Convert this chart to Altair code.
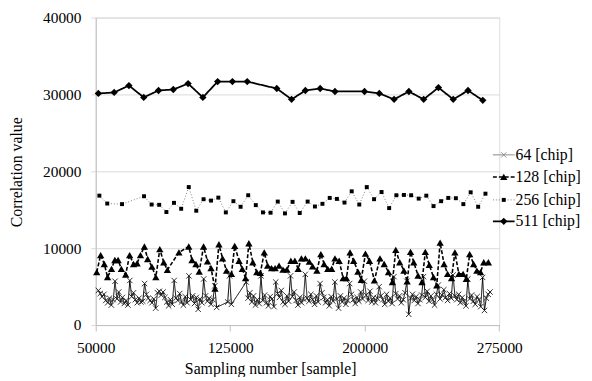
import altair as alt
import pandas as pd

FONT = "'Liberation Serif', 'Times New Roman', Times, serif"

series_names = ["64 [chip]", "128 [chip]", "256 [chip]", "511 [chip]"]

# 511 [chip]
x511 = [51480, 60280, 68520, 76770, 85010, 93250, 101500, 109740, 117990, 126230,
        134480, 150960, 159210, 166900, 175150, 183390, 199880, 208120, 216370,
        224610, 232860, 241100, 249340, 257590, 265830]
v511 = [30128, 30256, 31154, 29615, 30513, 30641, 31410, 29615, 31667, 31667,
        31667, 30769, 29359, 30513, 30769, 30385, 30385, 30128, 29359, 30385,
        29359, 30897, 29359, 30513, 29231]

# 256 [chip]
x256 = [52030, 56430, 64670, 76930, 81160, 85390, 89410, 93640, 97650, 101880,
        106060, 110130, 114300, 118370, 122550, 126780, 130790, 135020, 139260,
        143270, 147500, 151510, 155520, 159760, 163770, 168170, 172230, 176410,
        180480, 184490, 188720, 192730, 196960, 201140, 205210, 209380, 213620,
        217630, 221860, 225870, 230100, 234340, 238350, 242580, 246590, 250820,
        255000, 259070, 263250, 267310]
v256 = [16833, 15808, 15731, 16756, 15679, 15641, 14705, 15897, 15128, 17949,
        14872, 16372, 16192, 16577, 14654, 16115, 15385, 16885, 15603, 14654,
        14615, 16064, 14526, 16026, 14577, 16064, 15423, 15769, 16538, 16410,
        15936, 17397, 15679, 17949, 16372, 17308, 15218, 16885, 16923, 16885,
        16449, 16833, 15474, 16115, 16538, 16500, 15731, 17269, 15385, 17090]

# 128 [chip]
x128 = [50550, 52750, 54780, 56600, 58800, 60660, 62480, 64290, 66710, 68910,
        71100, 73080, 74950, 77150, 78960, 81330, 83530, 85720, 87920, 89960,
        96390, 101880, 103700, 105890, 107710, 110130, 112320, 114300, 116500, 118700,
        120730, 122930, 125680, 127490, 129910, 131730, 133550, 135410, 137610, 139810,
        141790, 143980, 145850, 148050, 150030, 152230, 154420, 156620, 158820, 161020,
        162890, 164700, 166900, 169100, 170910, 173330, 175530, 177340, 179380, 181570,
        183390, 185750, 187950, 189820, 191800, 193830, 196200, 198060, 200400, 202630,
        205380, 208510, 210870, 213230, 215430, 217300, 219500, 221860, 223670, 225540,
        227350, 229720, 231920, 233780, 235980, 238350, 240160, 242030, 244230, 246210,
        248410, 250280, 252480, 254840, 256660, 258520, 260720, 262530, 264570, 266380,
        268960]
v128 = [6885, 9102, 7948, 6243, 7307, 8461, 8461, 7307, 6577, 9102,
        7948, 8038, 9102, 10217, 8589, 7602, 6243, 9871, 8166, 7179,
        9448, 10217, 8461, 7948, 6961, 10217, 8294, 7397, 4743, 10512,
        8679, 7089, 6666, 10294, 8371, 7307, 6115, 10641, 8166, 6885,
        6795, 9448, 7730, 7397, 7397, 7730, 7218, 7218, 8371, 8371,
        7307, 8679, 8679, 8243, 7653, 7089, 9230, 7948, 7307, 7307,
        8679, 8371, 6115, 6115, 9448, 8371, 6961, 5897, 9300, 8371,
        5820, 8679, 7948, 6885, 5602, 9782, 8166, 7089, 5679, 9525,
        8166, 6448, 5602, 9525, 7820, 6243, 5166, 10730, 7948, 6666,
        6115, 9448, 6666, 6666, 6025, 9230, 7948, 7089, 6885, 8166,
        8166]

# 64 [chip]: sampled every 1030 samples from 51500 (None = no sample)
x64_start = 51500
x64_step = 1030
v64 = [4500, 4100, 3700, 4000, 3200, 2900, 3500, 2600, 3300,
       5700, 3400, 4300, 3000, 3600, 2800, 3200, 2600,
       5800, 3700, 4200, 3300, 2900, 3500, 3000, 3100,
       5400, 4000, 3500, 3200, 2900, 3400, 2200, 4200,
       4400, 3900, 4300, 3600, 3000, 2500, 3300, 2700,
       5800, 3500, 3200, 4100, 3000, 2600, 3700, 2900,
       6400, 3300, 3800, 2800, 3600, 2050, 3400, 2900,
       6000, 3800, 3100, 3500, 2700,
       3300, 5100, 2300,
       None, None, None, None, None,
       3000, 6400, 2700,
       None, None, None, None, None, None, None,
       5600, 3500, 4200, 3000, 3800, 2600, 3300, 2800,
       6400, 3200, 3900, 2900, 2500, 3700, 3400, 2400,
       5600, 4100, 3600, 4500, 3000, 2700, 3800, 3100,
       6400, 3700, 4300, 3200, 2600, 3600, 2900, 3400,
       6600, 3500, 3100, 4000, 3300, 2700, 3800, 3000,
       5400, 4200, 3600, 2900, 3300, 2500, 3700, 3100,
       5600, 3400, 2200, 3800, 3000, 3500, 2700, 3200,
       5400, 4000, 3300, 2800, 3600, 3100, 4300, 3400,
       5700, 3900, 3200, 4400, 3000, 3600, 2900, 3500,
       5000, 3800, 3300, 2700, 4000, 3100, 3500, 2800,
       6300, 4100, 3400, 3800, 2900, 3300, 4200,
       5700, 1400,
       3500, 4000, 3200, 3700, 2800, 3300, 3900,
       6300, 3600, 4400, 3100, 3800, 3300, 2600, 4000,
       5200, 3400, 3900, 4600, 3600, 3200, 4100, 3500,
       6500, 3800, 3300, 4000, 2900, 3600, 3100, 2500,
       6000, 3400, 3900, 3100, 2700, 3700, 3300, 2400,
       6200, 1900,
       3500, 4000, 4300]

x64 = [x64_start + x64_step * i for i, v in enumerate(v64) if v is not None]
v64c = [v for v in v64 if v is not None]

x_ticks = [50000, 125000, 200000, 275000]
y_ticks = [0, 10000, 20000, 30000, 40000]

x_scale = alt.Scale(domain=[50000, 275000], nice=False, zero=False)
y_scale = alt.Scale(domain=[0, 40000], nice=False)

x_axis = alt.Axis(values=x_ticks, format="d", grid=False, title="Sampling number [sample]",
                  domainColor="#bfbfbf", tickColor="#bfbfbf", tickSize=6,
                  labelFont=FONT, labelFontSize=15.6, labelColor="black", labelPadding=10,
                  labelFlush=False,
                  titleFont=FONT, titleFontSize=16, titleFontWeight="normal", titleColor="black",
                  titleX=177, titleY=44, titleBaseline="middle")
y_axis = alt.Axis(values=y_ticks, format="d", grid=True, gridColor="#d9d9d9",
                  title="Correlation value",
                  domainColor="#bfbfbf", tickColor="#d9d9d9", tickSize=5,
                  labelFont=FONT, labelFontSize=15.6, labelColor="black", labelPadding=10,
                  titleFont=FONT, titleFontSize=16, titleFontWeight="normal", titleColor="black",
                  titleX=-80, titleY=156.5, titleAngle=-90, titleBaseline="middle",
                  titleAlign="center")

X_SHAPE = "M-1,-1L1,1M-1,1L1,-1"

styles = {
    "64 [chip]": dict(color="black", width=1.0, dash=[1, 0], shape=X_SHAPE, size=30, filled=False, mcolor="#1a1a1a", lcolor="#808080"),
    "128 [chip]": dict(color="black", width=1.6, dash=[4, 2], shape="triangle-up", size=55, filled=True, mcolor="black", lcolor="black"),
    "256 [chip]": dict(color="#808080", width=1.0, dash=[1, 2], shape="square", size=16, filled=True, mcolor="black", lcolor="#808080"),
    "511 [chip]": dict(color="black", width=1.8, dash=[1, 0], shape="diamond", size=55, filled=True, mcolor="black", lcolor="black"),
}

data_sets = {
    "64 [chip]": (x64, v64c),
    "128 [chip]": (x128, v128),
    "256 [chip]": (x256, v256),
    "511 [chip]": (x511, v511),
}

layers = []
for name in series_names:
    xs, vs = data_sets[name]
    df = pd.DataFrame({"x": xs, "v": vs})
    st = styles[name]
    enc = dict(x=alt.X("x:Q", scale=x_scale, axis=x_axis),
               y=alt.Y("v:Q", scale=y_scale, axis=y_axis))
    line = alt.Chart(df).mark_line(color=st["color"], strokeWidth=st["width"],
                                   strokeDash=st["dash"]).encode(**enc)
    if st["filled"]:
        pts = alt.Chart(df).mark_point(shape=st["shape"], size=st["size"], filled=True,
                                       color=st["mcolor"], opacity=1).encode(**enc)
    else:
        pts = alt.Chart(df).mark_point(shape=st["shape"], size=st["size"], filled=False,
                                       stroke=st["mcolor"], strokeWidth=0.9, opacity=1).encode(**enc)
    layers += [line, pts]

# legend (drawn manually, Excel style)
legend_y = [139.3, 161.7, 185.0, 206.7]
for name, ly in zip(series_names, legend_y):
    st = styles[name]
    ldf = pd.DataFrame({"label": [name]})
    layers.append(alt.Chart(ldf).mark_rule(color=st["lcolor"], strokeWidth=st["width"],
                                           strokeDash=st["dash"]).encode(
        x=alt.value(403), x2=alt.value(425), y=alt.value(ly)))
    if st["filled"]:
        layers.append(alt.Chart(ldf).mark_point(shape=st["shape"], size=st["size"], filled=True,
                                                color=st["mcolor"], opacity=1).encode(
            x=alt.value(414), y=alt.value(ly)))
    else:
        layers.append(alt.Chart(ldf).mark_point(shape=st["shape"], size=st["size"], filled=False,
                                                stroke=st["lcolor"], strokeWidth=0.8, opacity=1).encode(
            x=alt.value(414), y=alt.value(ly)))
    layers.append(alt.Chart(ldf).mark_text(align="left", baseline="middle", font=FONT,
                                           fontSize=16, color="black").encode(
        x=alt.value(426), y=alt.value(ly), text="label:N"))

chart = alt.layer(*layers).properties(
    width=409.4, height=312,
    padding={"left": 89, "top": 7, "right": 86, "bottom": 50},
    autosize=alt.AutoSizeParams(type="none"),
).configure_view(stroke=None).configure(background="white", font=FONT)

chart.save("out.html", embed_options={"renderer": "svg", "actions": False})
